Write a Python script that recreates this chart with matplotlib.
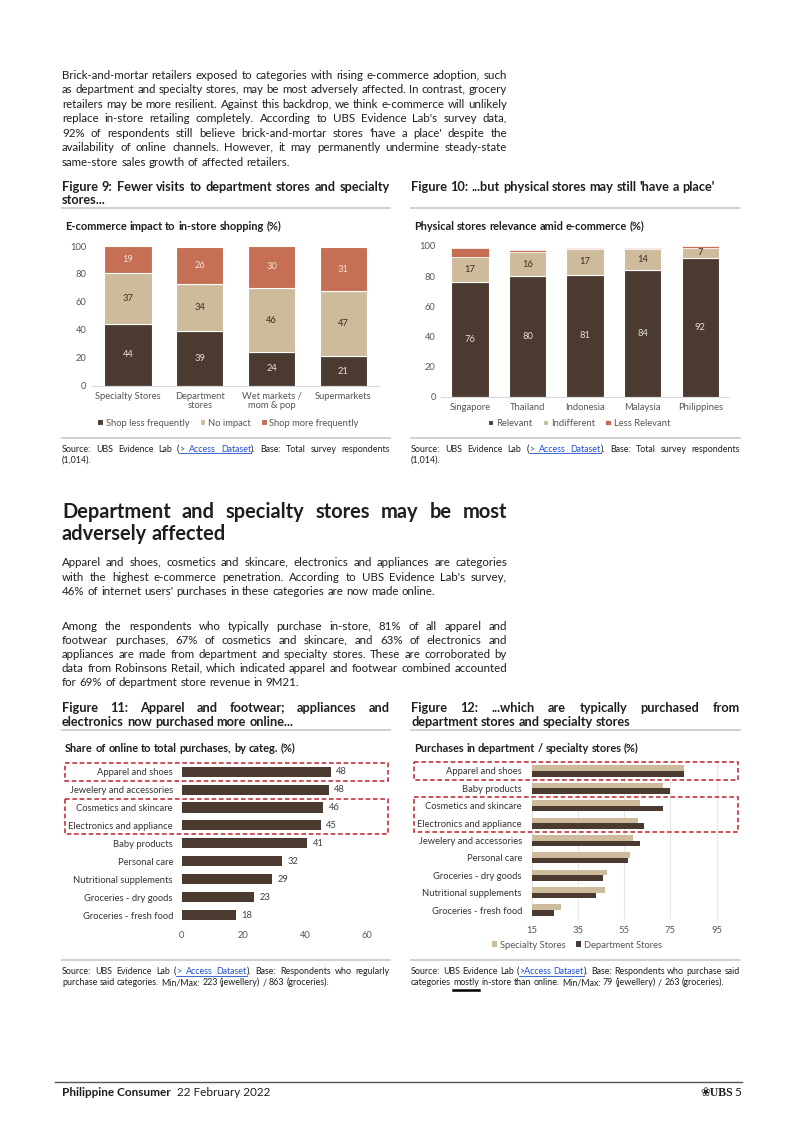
import math
import matplotlib
matplotlib.use('Agg')
import matplotlib.pyplot as plt
import matplotlib.transforms as mtransforms
from matplotlib.lines import Line2D
from matplotlib.patches import Rectangle
from matplotlib.font_manager import FontProperties
from matplotlib.backends.backend_agg import get_hinting_flag
import numpy as np

W, H = 802, 1134
FAMILY = ['Lato', 'DejaVu Sans']
plt.rcParams['font.family'] = FAMILY

DARK = '#4B3A2F'
TAN = '#CDBB9B'
RUST = '#C76F55'
TXT = '#1E1E1E'
AXTXT = '#555555'
LINK = '#1F4FD0'
RULE = '#C8C8C8'
BOX = '#C0202A'

# ---- data ----
stores = ['Specialty Stores', 'Department\nstores', 'Wet markets /\nmom & pop', 'Supermarkets']
shop_less = [44, 39, 24, 21]
no_impact = [37, 34, 46, 47]
shop_more = [19, 26, 30, 31]

countries = ['Singapore', 'Thailand', 'Indonesia', 'Malaysia', 'Philippines']
relevant = [76, 80, 81, 84, 92]
indifferent = [17, 16, 17, 14, 7]
less_relevant = [6, 1.5, 1, 1, 0.7]

online_cats = ['Apparel and shoes', 'Jewelery and accessories', 'Cosmetics and skincare',
               'Electronics and appliance', 'Baby products', 'Personal care',
               'Nutritional supplements', 'Groceries - dry goods', 'Groceries - fresh food']
online_share = [48.3, 47.6, 45.8, 45.0, 40.7, 32.4, 29.1, 23.4, 17.6]

instore_cats = ['Apparel and shoes', 'Baby products', 'Cosmetics and skincare',
                'Electronics and appliance', 'Jewelery and accessories', 'Personal care',
                'Groceries - dry goods', 'Nutritional supplements', 'Groceries - fresh food']
specialty = [80.9, 71.6, 61.7, 60.8, 58.7, 57.7, 47.7, 46.8, 27.5]
department = [81.0, 74.8, 71.8, 63.7, 61.7, 56.8, 45.7, 42.7, 24.7]

para1 = [
    "Brick-and-mortar retailers exposed to categories with rising e-commerce adoption, such",
    "as department and specialty stores, may be most adversely affected. In contrast, grocery",
    "retailers may be more resilient. Against this backdrop, we think e-commerce will unlikely",
    "replace in-store retailing completely. According to UBS Evidence Lab's survey data,",
    "92% of respondents still believe brick-and-mortar stores 'have a place' despite the",
    "availability of online channels. However, it may permanently undermine steady-state",
    "same-store sales growth of affected retailers.",
]
heading = ["Department and specialty stores may be most", "adversely affected"]
para2 = [
    "Apparel and shoes, cosmetics and skincare, electronics and appliances are categories",
    "with the highest e-commerce penetration. According to UBS Evidence Lab's survey,",
    "46% of internet users' purchases in these categories are now made online.",
]
para3 = [
    "Among the respondents who typically purchase in-store, 81% of all apparel and",
    "footwear purchases, 67% of cosmetics and skincare, and 63% of electronics and",
    "appliances are made from department and specialty stores. These are corroborated by",
    "data from Robinsons Retail, which indicated apparel and footwear combined accounted",
    "for 69% of department store revenue in 9M21.",
]
src_total = ["Source: UBS Evidence Lab ({> Access Dataset}). Base: Total survey respondents",
             "(1,014)."]
src11 = ["Source: UBS Evidence Lab ({> Access Dataset}). Base: Respondents who regularly",
         "purchase said categories. Min/Max: 223 (jewellery) / 863 (groceries)."]
src12 = ["Source: UBS Evidence Lab ({>Access Dataset}). Base: Respondents who purchase said",
         "categories [mostly] in-store than online. Min/Max: 79 (jewellery) / 263 (groceries)."]

fig = plt.figure(figsize=(W / 100, H / 100), dpi=100)
renderer = fig.canvas.get_renderer()


def fy(y):
    return 1 - y / H


def hline(x0, x1, y, color=RULE, lw=1.0):
    fig.add_artist(Line2D([x0 / W, x1 / W], [fy(y)] * 2, color=color, lw=lw))


def width_of(s, **kw):
    t = fig.text(0, 0, s, **kw)
    w = t.get_window_extent(renderer).width
    t.remove()
    return w


def fit(s, target, weight='normal'):
    # font size giving the same rendered width as in the reference
    return 10 * target / width_of(s, fontsize=10, weight=weight)


def baseline_shift(s, size, weight):
    # Agg rounds each text bitmap on its own; work out that rounding so
    # words of one line share the same baseline
    try:
        font = renderer._prepare_font(FontProperties(family=FAMILY, weight=weight, size=size))
        font.set_text(s, 0, flags=get_hinting_flag())
        _, h = font.get_width_height()
        d = font.get_descent() / 64
        ymax = h / 64 - d
        return round(d) + math.trunc(ymax) - math.trunc(h / 64)
    except Exception:
        return 0


def parse(line):
    words, cur, buf, style = [], [], '', None
    for ch in line:
        if ch in '{[':
            if buf:
                cur.append((buf, style))
            buf = ''
            style = 'link' if ch == '{' else 'mark'
        elif ch in '}]':
            if buf:
                cur.append((buf, style))
            buf = ''
            style = None
        elif ch == ' ':
            if buf:
                cur.append((buf, style))
            buf = ''
            if cur:
                words.append(cur)
            cur = []
        else:
            buf += ch
    if buf:
        cur.append((buf, style))
    if cur:
        words.append(cur)
    return words


def paragraph(lines, x0, x1, y0, step, size, weight='normal', color=TXT, justify=True):
    space = width_of('a a', fontsize=size, weight=weight) - width_of('aa', fontsize=size, weight=weight)
    for i, line in enumerate(lines):
        y = round(y0 + i * step)
        arts = []
        for word in parse(line):
            segs = []
            for s, style in word:
                c = LINK if style == 'link' else color
                dy = baseline_shift(s, size, weight)
                t = fig.text(0, fy(y - dy), s, fontsize=size, weight=weight, color=c,
                             va='baseline', ha='left')
                segs.append((t, t.get_window_extent(renderer).width, style))
            arts.append(segs)
        widths = [sum(w for _, w, _ in segs) for segs in arts]
        last = i == len(lines) - 1
        if last or not justify or len(arts) < 2:
            gap = space
        else:
            gap = (x1 - x0 - sum(widths)) / (len(arts) - 1)
        x = x0
        link = []
        for segs in arts:
            for t, w, style in segs:
                t.set_x(x / W)
                if style == 'link':
                    link += [x, x + w]
                if style == 'mark':
                    hline(x, x + w, y + 4.5, color='black', lw=1.8)
                x += w
            x += gap
        if link:
            hline(min(link), max(link), y + 1.5, color=LINK, lw=0.6)


def px_ax(l, t, r, b):
    return fig.add_axes([l / W, 1 - b / H, (r - l) / W, (b - t) / H])


# sizes calibrated to the widths of text in the reference
BODY = fit("same-store sales growth of affected retailers.", 228)
HEAD = fit("adversely affected", 166, 'bold')
TITLE = fit("Figure 10: ...but physical stores may still 'have a place'", 303, 'bold')
SUB = fit("E-commerce impact to in-store shopping (%)", 217, 'bold')
TICK = fit("Jewelery and accessories", 103)
SRC = fit("categories mostly in-store than online. Min/Max: 79 (jewellery) / 263 (groceries).", 314)
plt.rcParams['font.size'] = TICK


def clean(ax):
    for s in ax.spines.values():
        s.set_visible(False)
    ax.tick_params(length=0, labelsize=TICK, labelcolor=AXTXT)


# ---- body text ----
paragraph(para1, 62, 507, 79, 14.45, BODY)
paragraph(heading, 62, 507, 518, 22, HEAD, weight='bold')
paragraph(para2, 62, 507, 566.5, 14.3, BODY)
paragraph(para3, 62, 507, 629.5, 14.25, BODY)

# ---- figure titles ----
paragraph(["Figure 9: Fewer visits to department stores and specialty", "stores..."],
          62, 390, 191, 13.5, TITLE, weight='bold')
paragraph(["Figure 10: ...but physical stores may still 'have a place'"],
          411, 740, 191, 13.5, TITLE, weight='bold')
paragraph(["Figure 11: Apparel and footwear; appliances and", "electronics now purchased more online..."],
          62, 390, 712.5, 14, TITLE, weight='bold')
paragraph(["Figure 12: ...which are typically purchased from", "department stores and specialty stores"],
          411, 740, 712.5, 14, TITLE, weight='bold')
for x0, x1, y in [(62, 390, 208), (411, 740, 208), (62, 390, 438), (411, 740, 438),
                  (62, 390, 730), (411, 740, 730), (62, 390, 960), (411, 740, 960)]:
    hline(x0, x1, y, lw=1.2)

paragraph(["E-commerce impact to in-store shopping (%)"], 65, 390, 230.5, 12, SUB, weight='bold')
paragraph(["Physical stores relevance amid e-commerce (%)"], 414, 740, 230.5, 12, SUB, weight='bold')
paragraph(["Share of online to total purchases, by categ. (%)"], 65, 390, 752.5, 12, SUB, weight='bold')
paragraph(["Purchases in department / specialty stores (%)"], 414, 740, 752.5, 12, SUB, weight='bold')

paragraph(src_total, 62, 390, 452, 11, SRC)
paragraph(src_total, 411, 740, 452, 11, SRC)
paragraph(src11, 62, 390, 974, 11, SRC)
paragraph(src12, 411, 740, 974, 11, SRC)

# ---- Figure 9 ----
ax9 = px_ax(92.1, 246, 379.2, 385.7)
x = np.arange(len(stores))
b1 = ax9.bar(x, shop_less, 0.66, color=DARK, edgecolor='white', lw=0.8, label='Shop less frequently')
b2 = ax9.bar(x, no_impact, 0.66, bottom=shop_less, color=TAN, edgecolor='white', lw=0.8, label='No impact')
b3 = ax9.bar(x, shop_more, 0.66, bottom=np.add(shop_less, no_impact), color=RUST,
             edgecolor='white', lw=0.8, label='Shop more frequently')
ax9.bar_label(b1, label_type='center', color='#E6DED6', fontsize=TICK)
ax9.bar_label(b2, label_type='center', color='#3A2E26', fontsize=TICK)
ax9.bar_label(b3, label_type='center', color='#F3E2D8', fontsize=TICK)
ax9.set_xlim(-0.5, len(stores) - 0.5)
ax9.set_ylim(0, 100)
ax9.set_yticks(range(0, 101, 20))
ax9.set_xticks(x, stores, linespacing=1.0)
clean(ax9)
ax9.spines['bottom'].set_visible(True)
ax9.spines['bottom'].set_color('#D9D9D9')
ax9.tick_params(axis='x', pad=4.5)
ax9.tick_params(axis='y', pad=4)
ax9.legend(loc='center', bbox_to_anchor=(228 / W, fy(423)), bbox_transform=fig.transFigure,
           ncol=3, frameon=False, fontsize=TICK, handlelength=0.6, handleheight=0.6,
           handletextpad=0.3, columnspacing=1.1, labelcolor=AXTXT)

# ---- Figure 10 ----
ax10 = px_ax(441.2, 246, 729, 396.7)
x = np.arange(len(countries))
c1 = ax10.bar(x, relevant, 0.65, color=DARK, edgecolor='white', lw=0.8, label='Relevant')
c2 = ax10.bar(x, indifferent, 0.65, bottom=relevant, color=TAN, edgecolor='white', lw=0.8, label='Indifferent')
c3 = ax10.bar(x, less_relevant, 0.65, bottom=np.add(relevant, indifferent), color=RUST,
              edgecolor='white', lw=0.5, label='Less Relevant')
ax10.bar_label(c1, label_type='center', color='#E6DED6', fontsize=TICK)
ax10.bar_label(c2, label_type='center', color='#3A2E26', fontsize=TICK)
ax10.set_xlim(-0.5, len(countries) - 0.5)
ax10.set_ylim(0, 100)
ax10.set_yticks(range(0, 101, 20))
ax10.set_xticks(x, countries)
clean(ax10)
ax10.spines['bottom'].set_visible(True)
ax10.spines['bottom'].set_color('#D9D9D9')
ax10.tick_params(axis='x', pad=4.5)
ax10.tick_params(axis='y', pad=4)
ax10.legend(loc='center', bbox_to_anchor=(579 / W, fy(423.3)), bbox_transform=fig.transFigure,
            ncol=3, frameon=False, fontsize=TICK, handlelength=0.6, handleheight=0.6,
            handletextpad=0.3, columnspacing=1.1, labelcolor=AXTXT)

# ---- Figure 11 ----
ax11 = px_ax(181.7, 762.7, 367, 924)
y = np.arange(len(online_cats))
d = ax11.barh(y, online_share, 0.56, color=DARK)
ax11.bar_label(d, fmt='%.0f', padding=4, fontsize=TICK, color='#404040')
ax11.set_xlim(0, 60)
ax11.set_ylim(len(online_cats) - 0.5, -0.5)
ax11.set_xticks(range(0, 61, 20))
ax11.set_yticks(y, online_cats)
clean(ax11)
ax11.tick_params(axis='y', pad=6.3, labelcolor='#333333')
ax11.tick_params(axis='x', pad=5)
tr = mtransforms.blended_transform_factory(fig.transFigure, ax11.transData)
for r0, r1 in [(0, 0), (2, 3)]:
    fig.add_artist(Rectangle((65 / W, r0 - 0.5), (388 - 65) / W, r1 - r0 + 1, transform=tr,
                             fill=False, ec=BOX, lw=1.1, ls=(0, (3, 1.8))))

# ---- Figure 12 ----
ax12 = px_ax(531.7, 762.3, 728.3, 918.7)
y = np.arange(len(instore_cats))
ax12.barh(y - 0.16, specialty, 0.32, color=TAN, label='Specialty Stores')
ax12.barh(y + 0.16, department, 0.32, color=DARK, label='Department Stores')
ax12.set_xlim(15, 100)
ax12.set_ylim(len(instore_cats) - 0.5, -0.5)
ax12.set_xticks(range(15, 96, 20))
ax12.set_yticks(y, instore_cats)
ax12.grid(axis='x', color='#E6E6E6', lw=0.8)
ax12.set_axisbelow(True)
clean(ax12)
ax12.tick_params(axis='y', pad=7, labelcolor='#333333')
ax12.tick_params(axis='x', pad=5)
ax12.legend(loc='center', bbox_to_anchor=(577 / W, fy(945)), bbox_transform=fig.transFigure,
            ncol=2, frameon=False, fontsize=TICK, handlelength=0.6, handleheight=0.6,
            handletextpad=0.3, columnspacing=1.1, labelcolor=AXTXT)
tr = mtransforms.blended_transform_factory(fig.transFigure, ax12.transData)
for r0, r1 in [(0, 0), (2, 3)]:
    fig.add_artist(Rectangle((414 / W, r0 - 0.5), (738 - 414) / W, r1 - r0 + 1, transform=tr,
                             fill=False, ec=BOX, lw=1.1, ls=(0, (3, 1.8))))

# ---- footer ----
NARROW = ['Liberation Sans Narrow', 'Lato']
FOOT = 10 * 109 / width_of('Philippine Consumer', fontsize=10, weight='bold', family=NARROW)
hline(55, 742, 1082, color='#555555', lw=1.0)
fig.text(62 / W, fy(1096), 'Philippine Consumer', fontsize=FOOT, weight='bold', color=TXT,
         family=NARROW, va='baseline')
fig.text(177 / W, fy(1096), '22 February 2022', fontsize=FOOT, color=TXT,
         family=NARROW, va='baseline')
fig.text(733 / W, fy(1096), '\u2740UBS', fontsize=FOOT, weight='bold', color=TXT,
         family=['Liberation Serif', 'DejaVu Sans'], va='baseline', ha='right')
fig.text(741 / W, fy(1096), '5', fontsize=FOOT, color=TXT,
         family=NARROW, va='baseline', ha='right')

fig.savefig('out.png', dpi=100)
